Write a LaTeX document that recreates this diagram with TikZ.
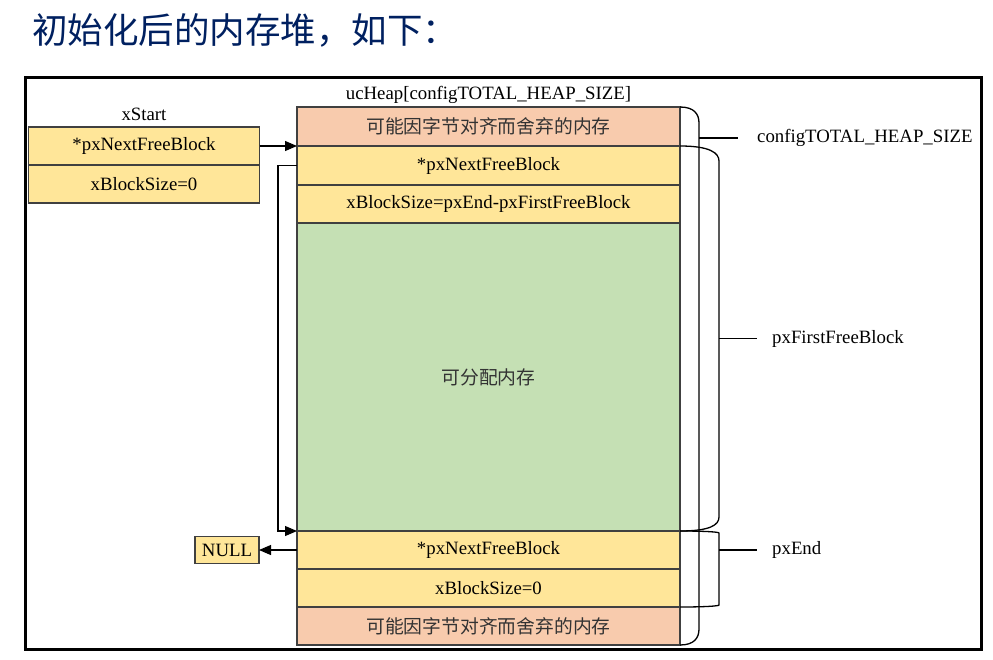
\documentclass[tikz,border=0pt]{standalone}
\usepackage{fontspec}
\setmainfont{Liberation Serif}
\newfontfamily\cjk{Noto Sans CJK SC}
\usepackage{xcolor}
\usetikzlibrary{arrows.meta,positioning,calc}
\definecolor{titleblue}{RGB}{0,32,96}
\definecolor{cellyellow}{RGB}{255,230,153}
\definecolor{cellorange}{RGB}{248,203,173}
\definecolor{cellgreen}{RGB}{197,224,180}
\definecolor{cellline}{RGB}{64,64,64}

\begin{document}
\begin{tikzpicture}[
  x=1pt, y=-1pt,
  font=\fontsize{18.8}{22}\selectfont,
  >={Triangle[length=12pt,width=10pt]},
  node distance=0pt,
  cell/.style={draw=cellline, line width=1.1pt, minimum width=383pt,
               inner sep=0pt, outer sep=0pt},
  padcell/.style={cell, fill=cellorange, text=black!80},
  yellowcell/.style={cell, fill=cellyellow},
  freecell/.style={cell, fill=cellgreen, text=black!80},
  headcell/.style={draw=cellline, line width=1.1pt, fill=cellyellow,
                   minimum width=231pt, minimum height=38pt, inner sep=0pt, outer sep=0pt},
  nullbox/.style={draw=cellline, line width=1.1pt, fill=cellyellow,
                  minimum width=64pt, minimum height=27pt, inner sep=0pt, outer sep=0pt},
  arrow/.style={->, line width=1.1pt},
  brace/.style={line width=1.3pt},
  sidetext/.style={inner sep=0pt, anchor=west},
]
\useasboundingbox (0,0) rectangle (993,659);

% title and frame
\node[anchor=west, inner sep=0pt, text=titleblue, font=\cjk\fontsize{35.5}{40}\selectfont]
  (title) at (32,30) {初始化后的内存堆，如下：};
\draw[line width=3pt] (25,77) rectangle (981,649.5);

% ucHeap column
\node[padcell, anchor=north, minimum height=39pt] (ha) at (488.5,107) {\cjk 可能因字节对齐而舍弃的内存};
\node[yellowcell, below=of ha, minimum height=39pt] (hb) {*pxNextFreeBlock};
\node[yellowcell, below=of hb, minimum height=38pt] (hc) {xBlockSize=pxEnd-pxFirstFreeBlock};
\node[freecell, below=of hc, minimum height=308pt] (hg) {\cjk 可分配内存};
\node[yellowcell, below=of hg, minimum height=38pt] (he) {*pxNextFreeBlock};
\node[yellowcell, below=of he, minimum height=38pt] (hf) {xBlockSize=0};
\node[padcell, below=of hf, minimum height=38pt] (hz) {\cjk 可能因字节对齐而舍弃的内存};
\node[above=0pt of ha] (heapName) {ucHeap[configTOTAL\_HEAP\_SIZE]};

% xStart
\node[headcell] (xsNext) at (144,146) {*pxNextFreeBlock};
\node[headcell, below=of xsNext] (xsSize) {xBlockSize=0};
\node[above=3pt of xsNext] (xsName) {xStart};
\node[nullbox, left=38pt of he] (nullBox) {NULL};

\draw[arrow] (xsNext.east) -- (hb.north west);
\draw[arrow] (hb.west) -- ++(-19,0) |- (he.north west);
\draw[arrow] (he.west) -- (nullBox.east);

% braces on the right
\node[sidetext] (capName) at (757,138) {configTOTAL\_HEAP\_SIZE};
\node[sidetext] (firstName) at (772,338.5) {pxFirstFreeBlock};
\node[sidetext] (endName) at (772,550) {pxEnd};
\coordinate (capTick) at ($(ha.north east)+(19,31)$);
\coordinate (firstTick) at ($(hb.north east)!0.5!(hg.south east)+(39,0)$);
\coordinate (endTick) at ($(he.east)+(39,0)$);

\draw[brace] (ha.north east) .. controls +(14,0) and +(0,-9) .. ($(ha.north east)+(19,16)$)
  -- ($(hz.south east)+(19,-16)$) .. controls +(0,9) and +(14,0) .. (hz.south east);
\draw[brace] (hb.north east) .. controls +(30,0) and +(0,-8) .. ($(hb.north east)+(39,15)$)
  -- ($(hg.south east)+(39,-14)$) .. controls +(0,8) and +(30,0) .. (hg.south east);
\draw[brace] (he.north east) .. controls +(25,0) and +(0,-1) .. ($(he.north east)+(39,2)$)
  -- ($(hf.south east)+(39,-2)$) .. controls +(0,1) and +(25,0) .. (hf.south east);
\draw[brace] (capTick) -- ($(capName.west)+(-19,0)$);
\draw[brace] (firstTick) -- ($(firstName.west)+(-15,0)$);
\draw[brace] (endTick) -- ($(endName.west)+(-15,0)$);

\end{tikzpicture}
\end{document}
